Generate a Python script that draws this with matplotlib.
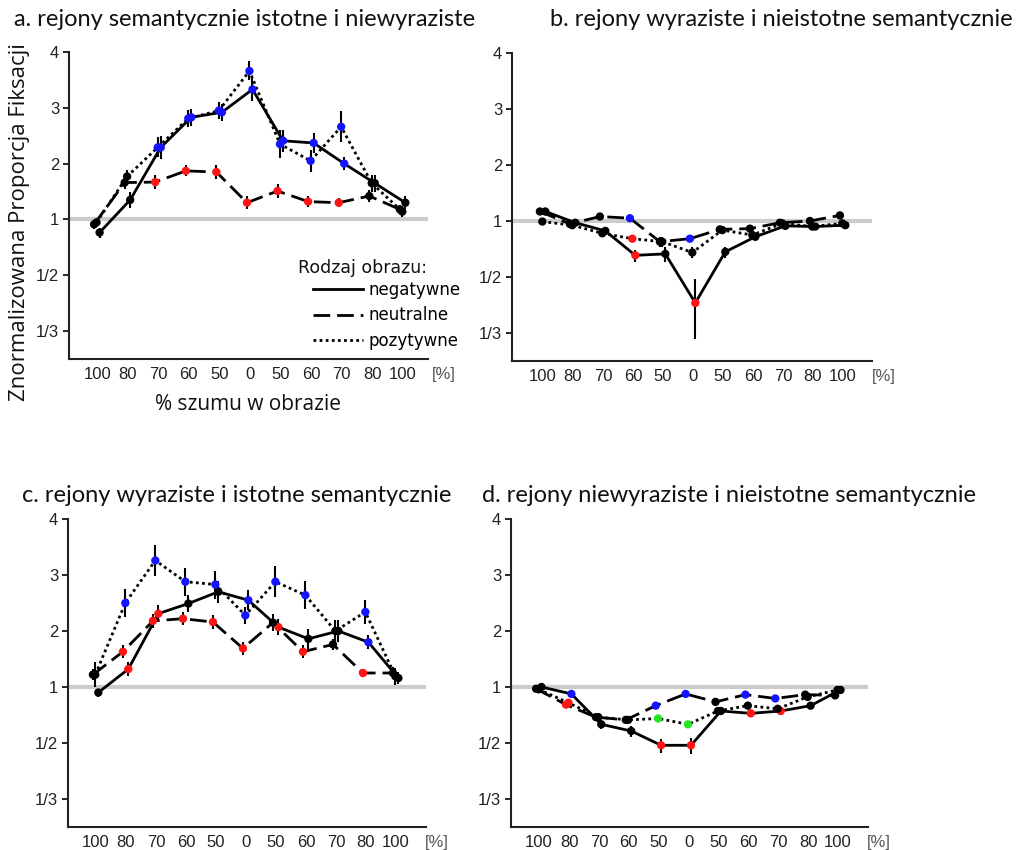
import numpy as np
import matplotlib
matplotlib.use('Agg')
import matplotlib.pyplot as plt

# noise level along the x axis (image goes from noise 100% -> clear -> noise 100%)
noise = ['100', '80', '70', '60', '50', '0', '50', '60', '70', '80', '100']
ytick_vals = [1/3, 1/2, 1, 2, 3, 4]
ytick_labels = ['1/3', '1/2', '1', '2', '3', '4']

# a. semantically important, not salient
a_neg = [0.81, 1.35, 2.29, 2.83, 2.92, 3.33, 2.41, 2.37, 2.00, 1.65, 1.30]
a_neu = [0.92, 1.66, 1.67, 1.87, 1.85, 1.30, 1.51, 1.32, 1.30, 1.42, 1.18]
a_pos = [0.95, 1.77, 2.29, 2.81, 2.95, 3.66, 2.35, 2.05, 2.66, 1.65, 1.14]
a_neg_err = [0.06, 0.15, 0.20, 0.15, 0.15, 0.20, 0.20, 0.18, 0.12, 0.15, 0.12]
a_neu_err = [0.06, 0.12, 0.12, 0.10, 0.12, 0.12, 0.12, 0.10, 0.08, 0.10, 0.08]
a_pos_err = [0.06, 0.12, 0.18, 0.15, 0.15, 0.17, 0.25, 0.20, 0.28, 0.15, 0.10]
a_neg_col = 'kkbbbbbbbkk'
a_neu_col = 'kkrrrrrrrkk'
a_pos_col = 'kkbbbbbbbkk'

# b. salient, semantically unimportant
b_neg = [1.17, 0.97, 0.85, 0.62, 0.63, 0.406, 0.645, 0.78, 0.92, 0.91, 0.93]
b_neu = [1.17, 0.95, 1.08, 1.05, 0.73, 0.76, 0.87, 0.88, 0.97, 1.00, 1.10]
b_pos = [0.99, 0.93, 0.82, 0.76, 0.73, 0.64, 0.86, 0.80, 0.96, 0.91, 0.96]
b_neg_err = [0.06, 0.03, 0.05, 0.04, 0.05, 0.085, 0.04, 0.03, 0.03, 0.03, 0.03]
b_neu_err = [0.03, 0.03, 0.03, 0.02, 0.05, 0.03, 0.03, 0.03, 0.03, 0.03, 0.03]
b_pos_err = [0.03, 0.03, 0.04, 0.03, 0.05, 0.04, 0.04, 0.04, 0.04, 0.04, 0.03]
b_neg_col = 'kkkrkrkkkkk'
b_neu_col = 'kkkbkbkkkkk'
b_pos_col = 'kkkrkkkkkkk'

# c. salient and semantically important
c_neg = [0.91, 1.32, 2.31, 2.49, 2.70, 2.55, 2.07, 1.86, 2.00, 1.80, 1.16]
c_neu = [1.22, 1.63, 2.18, 2.22, 2.16, 1.69, 2.15, 1.63, 1.76, 1.25, 1.25]
c_pos = [1.22, 2.50, 3.26, 2.88, 2.83, 2.28, 2.88, 2.64, 2.00, 2.34, 1.19]
c_neg_err = [0.06, 0.12, 0.15, 0.15, 0.20, 0.18, 0.15, 0.18, 0.20, 0.12, 0.10]
c_neu_err = [0.10, 0.12, 0.12, 0.12, 0.12, 0.12, 0.15, 0.12, 0.10, 0.08, 0.10]
c_pos_err = [0.22, 0.25, 0.28, 0.25, 0.25, 0.15, 0.28, 0.25, 0.20, 0.22, 0.15]
c_neg_col = 'krrkkbrkkbk'
c_neu_col = 'krrrrrkrkrk'
c_pos_col = 'kbbbbbbbkbk'

# d. not salient, semantically unimportant
d_neg = [1.00, 0.89, 0.60, 0.56, 0.49, 0.49, 0.70, 0.68, 0.70, 0.75, 0.95]
d_neu = [0.97, 0.76, 0.65, 0.63, 0.75, 0.89, 0.79, 0.88, 0.83, 0.88, 0.87]
d_pos = [0.96, 0.78, 0.65, 0.63, 0.64, 0.60, 0.70, 0.75, 0.72, 0.85, 0.95]
d_neg_err = [0.02, 0.02, 0.03, 0.03, 0.03, 0.035, 0.02, 0.02, 0.02, 0.02, 0.02]
d_neu_err = [0.02, 0.02, 0.02, 0.02, 0.02, 0.02, 0.02, 0.02, 0.02, 0.02, 0.02]
d_pos_err = [0.02, 0.02, 0.02, 0.02, 0.02, 0.02, 0.02, 0.02, 0.02, 0.02, 0.02]
d_neg_col = 'kbkkrrkrrkk'
d_neu_col = 'krkkbbkbbkk'
d_pos_col = 'krkkggkkkkk'

COLORS = {'k': 'black', 'b': '#1414ff', 'r': '#ff1414', 'g': '#22e622'}


# ratio scale: above 1 linear, below 1 reciprocal (1/2, 1/3 evenly spaced)
def fwd(y):
    y = np.asarray(y, dtype=float)
    with np.errstate(divide='ignore', invalid='ignore'):
        return np.where(y >= 1, y - 1, 1 - 1 / np.where(y > 0, y, 1e-9))


def inv(t):
    t = np.asarray(t, dtype=float)
    with np.errstate(divide='ignore', invalid='ignore'):
        return np.where(t >= 0, t + 1, 1 / (1 - np.minimum(t, 0)))


Y_LOW = 1 / 3.5
W, H = 1026, 850
fig = plt.figure(figsize=(W / 100, H / 100), dpi=100)


def add_axes(l, t, r, b):
    return fig.add_axes([l / W, 1 - b / H, (r - l) / W, (b - t) / H])


def draw_panel(ax, neg, neu, pos, xlim):
    x = np.arange(len(noise))
    ax.set_xlim(*xlim)
    ax.set_ylim(Y_LOW, 4)
    ax.set_yscale('function', functions=(fwd, inv))
    ax.set_ylim(Y_LOW, 4)
    ax.axhline(1, color='#cccccc', lw=3, zorder=0)
    series = [
        (neg, 0.08, '-', 'negatywne'),
        (neu, -0.10, (0, (6, 2.5)), 'neutralne'),
        (pos, -0.02, (0, (1, 1.2)), 'pozytywne'),
    ]
    for (vals, errs, cols), shift, ls, name in series:
        xs = x + shift
        ax.plot(xs, vals, color='black', lw=2, linestyle=ls, zorder=2, label=name)
        ax.errorbar(xs, vals, yerr=errs, fmt='none', ecolor='black',
                    elinewidth=1.5, zorder=3)
        ax.scatter(xs, vals, c=[COLORS[c] for c in cols], s=36,
                   edgecolors='none', zorder=4)
    ax.set_xlim(*xlim)
    ax.set_ylim(Y_LOW, 4)
    ax.set_yticks(ytick_vals)
    ax.set_yticklabels(ytick_labels)
    ax.yaxis.set_minor_locator(plt.NullLocator())
    ax.set_xticks(x)
    ax.set_xticklabels(noise)
    ax.tick_params(axis='x', length=0, pad=6, labelsize=12, labelcolor='#222222')
    ax.tick_params(axis='y', length=4, width=1.2, pad=3, labelsize=12,
                   labelcolor='#222222')
    for lab in ax.get_xticklabels() + ax.get_yticklabels():
        lab.set_fontfamily('Liberation Sans')
    for side in ['top', 'right']:
        ax.spines[side].set_visible(False)
    for side in ['left', 'bottom']:
        ax.spines[side].set_linewidth(1.5)
        ax.spines[side].set_color('#222222')
    ax.annotate('[%]', xy=(11.35, 0), xycoords=ax.get_xaxis_transform(),
                xytext=(0, -6), textcoords='offset points', ha='center', va='top',
                fontsize=12, family='Liberation Sans', color='#555555')


ax_a = add_axes(69, 52, 428, 359)
ax_b = add_axes(512, 53, 872, 361)
ax_c = add_axes(68, 519, 426, 827)
ax_d = add_axes(511, 519, 868, 827)

draw_panel(ax_a, (a_neg, a_neg_err, a_neg_col), (a_neu, a_neu_err, a_neu_col),
           (a_pos, a_pos_err, a_pos_col), (-0.92, 10.82))
draw_panel(ax_b, (b_neg, b_neg_err, b_neg_col), (b_neu, b_neu_err, b_neu_col),
           (b_pos, b_pos_err, b_pos_col), (-1.03, 10.97))
draw_panel(ax_c, (c_neg, c_neg_err, c_neg_col), (c_neu, c_neu_err, c_neu_col),
           (c_pos, c_pos_err, c_pos_col), (-0.93, 11.0))
draw_panel(ax_d, (d_neg, d_neg_err, d_neg_col), (d_neu, d_neu_err, d_neu_col),
           (d_pos, d_pos_err, d_pos_col), (-0.94, 11.0))

# panel titles
title_kw = dict(fontsize=17, family='Lato', color='#111111', va='center', ha='left')
fig.text(14 / W, 1 - 19 / H, 'a. rejony semantycznie istotne i niewyraziste', **title_kw)
fig.text(550 / W, 1 - 19 / H, 'b. rejony wyraziste i nieistotne semantycznie', **title_kw)
fig.text(22 / W, 1 - 495 / H, 'c. rejony wyraziste i istotne semantycznie', **title_kw)
fig.text(482 / W, 1 - 495 / H, 'd. rejony niewyraziste i nieistotne semantycznie', **title_kw)

fig.text(20 / W, 1 - 222 / H, 'Znormalizowana Proporcja Fiksacji', rotation=90,
         ha='center', va='center', fontsize=16, family='Open Sans', color='#111111')
fig.text(248 / W, 1 - 405 / H, '% szumu w obrazie', ha='center', va='center',
         fontsize=15, family='Open Sans', color='#111111')

# legend: title as its own text, entries below it
fig.text(298 / W, 1 - 268 / H, 'Rodzaj obrazu:', ha='left', va='center',
         fontsize=12.5, family='DejaVu Sans', color='#111111')
ax_a.legend(loc='upper left', bbox_to_anchor=(313 / W, 1 - 281 / H),
            bbox_transform=fig.transFigure, frameon=False, borderpad=0,
            borderaxespad=0, handlelength=3.0, handletextpad=0.3, labelspacing=0.45,
            prop={'family': 'DejaVu Sans', 'size': 12})

fig.savefig('out.png', dpi=100)
